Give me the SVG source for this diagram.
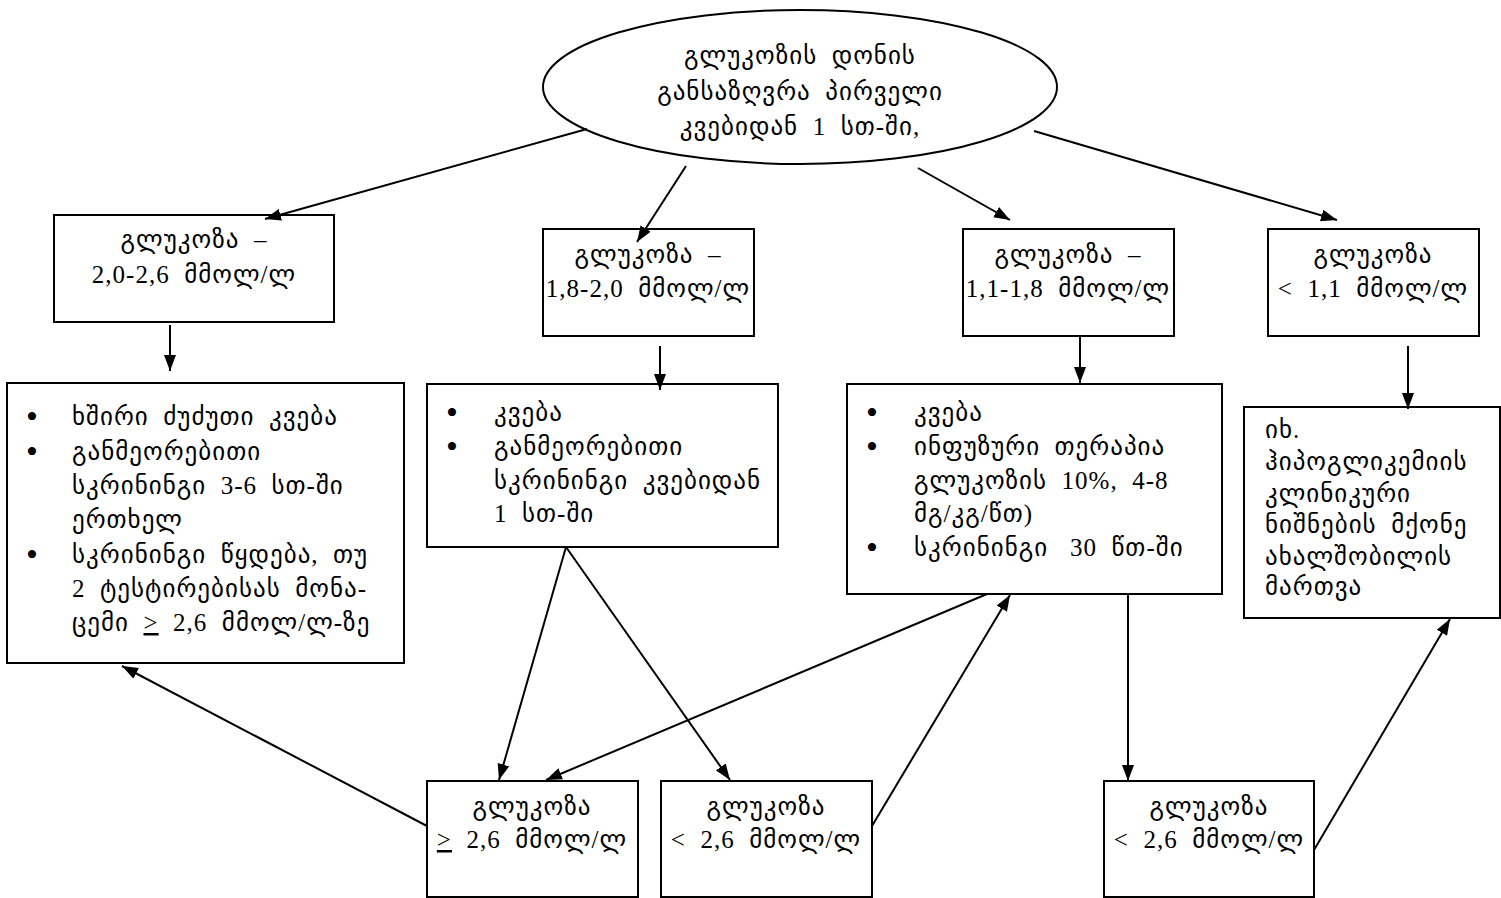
<svg xmlns="http://www.w3.org/2000/svg" width="1501" height="898" viewBox="0 0 1501 898">
<style>
.n{fill:#fff;stroke:#000;stroke-width:2}
.t{font-family:"Liberation Serif","DejaVu Sans",serif;font-size:25px;letter-spacing:1px;white-space:pre;fill:#000}
.b{font-family:"Liberation Serif",serif;font-size:34px;fill:#000}
.c{text-anchor:middle}
.e{stroke:#000;stroke-width:2;fill:none;marker-end:url(#ah)}
</style>
<defs>
<marker id="ah" viewBox="0 0 16 12" refX="16" refY="6" markerWidth="16" markerHeight="12" markerUnits="userSpaceOnUse" orient="auto">
<path d="M0,0 L16,6 L0,12 z" fill="#000"/>
</marker>
</defs>
<rect width="1501" height="898" fill="#fff"/>
<g id="start">
<ellipse class="n" cx="800" cy="87" rx="257" ry="77"/>
<text class="t c" x="800" y="64">გლუკოზის  დონის</text>
<text class="t c" x="800" y="100">განსაზღვრა  პირველი</text>
<text class="t c" x="800" y="135">კვებიდან  1  სთ-ში,</text>
</g>
<g id="b1">
<rect class="n" x="54" y="215" width="280" height="107"/>
<text class="t c" x="194" y="248">გლუკოზა  –</text>
<text class="t c" x="194" y="283">2,0-2,6  მმოლ/ლ</text>
</g>
<g id="b2">
<rect class="n" x="543" y="229" width="211" height="107"/>
<text class="t c" x="648" y="263">გლუკოზა  –</text>
<text class="t c" x="648" y="297">1,8-2,0  მმოლ/ლ</text>
</g>
<g id="b3">
<rect class="n" x="963" y="229" width="211" height="107"/>
<text class="t c" x="1068" y="263">გლუკოზა  –</text>
<text class="t c" x="1068" y="297">1,1-1,8  მმოლ/ლ</text>
</g>
<g id="b4">
<rect class="n" x="1268" y="229" width="211" height="107"/>
<text class="t c" x="1373" y="263">გლუკოზა</text>
<text class="t c" x="1373" y="297">&lt;  1,1  მმოლ/ლ</text>
</g>
<g id="l1">
<rect class="n" x="7" y="383" width="397" height="280"/>
<text class="b" x="26" y="428">•</text>
<text class="t" x="72" y="425">ხშირი  ძუძუთი  კვება</text>
<text class="b" x="26" y="463">•</text>
<text class="t" x="72" y="460">განმეორებითი</text>
<text class="t" x="72" y="494">სკრინინგი  3-6  სთ-ში</text>
<text class="t" x="72" y="528">ერთხელ</text>
<text class="b" x="26" y="566">•</text>
<text class="t" x="72" y="563">სკრინინგი  წყდება,  თუ</text>
<text class="t" x="72" y="597">2  ტესტირებისას  მონა-</text>
<text class="t" x="72" y="631">ცემი  <tspan text-decoration="underline">&gt;</tspan>  2,6  მმოლ/ლ-ზე</text>
</g>
<g id="l2">
<rect class="n" x="427" y="384" width="351" height="163"/>
<text class="b" x="446" y="424">•</text>
<text class="t" x="494" y="421">კვება</text>
<text class="b" x="446" y="458">•</text>
<text class="t" x="494" y="455">განმეორებითი</text>
<text class="t" x="494" y="489">სკრინინგი  კვებიდან</text>
<text class="t" x="494" y="522">1  სთ-ში</text>
</g>
<g id="l3">
<rect class="n" x="847" y="384" width="375" height="210"/>
<text class="b" x="866" y="424">•</text>
<text class="t" x="914" y="421">კვება</text>
<text class="b" x="866" y="458">•</text>
<text class="t" x="914" y="455">ინფუზური  თერაპია</text>
<text class="t" x="914" y="489">გლუკოზის  10%,  4-8</text>
<text class="t" x="914" y="522">მგ/კგ/წთ)</text>
<text class="b" x="866" y="559">•</text>
<text class="t" x="914" y="556">სკრინინგი   30  წთ-ში</text>
</g>
<g id="l4">
<rect class="n" x="1244" y="407" width="256" height="211"/>
<text class="t" x="1265" y="438">იხ.</text>
<text class="t" x="1265" y="470">ჰიპოგლიკემიის</text>
<text class="t" x="1265" y="502">კლინიკური</text>
<text class="t" x="1265" y="533">ნიშნების  მქონე</text>
<text class="t" x="1265" y="565">ახალშობილის</text>
<text class="t" x="1265" y="595">მართვა</text>
</g>
<g id="g1">
<rect class="n" x="427" y="781" width="211" height="116"/>
<text class="t c" x="532" y="815">გლუკოზა</text>
<text class="t c" x="532" y="848"><tspan text-decoration="underline">&gt;</tspan>  2,6  მმოლ/ლ</text>
</g>
<g id="g2">
<rect class="n" x="661" y="781" width="211" height="116"/>
<text class="t c" x="766" y="815">გლუკოზა</text>
<text class="t c" x="766" y="848">&lt;  2,6  მმოლ/ლ</text>
</g>
<g id="g3">
<rect class="n" x="1104" y="781" width="210" height="116"/>
<text class="t c" x="1209" y="815">გლუკოზა</text>
<text class="t c" x="1209" y="848">&lt;  2,6  მმოლ/ლ</text>
</g>
<g id="connectors">
<line class="e" x1="587" y1="129" x2="265" y2="219"/>
<line class="e" x1="686" y1="166" x2="637" y2="242"/>
<line class="e" x1="918" y1="168" x2="1010" y2="220"/>
<line class="e" x1="1034" y1="131" x2="1337" y2="220"/>
<line class="e" x1="170" y1="325" x2="170" y2="371"/>
<line class="e" x1="660" y1="346" x2="660" y2="390"/>
<line class="e" x1="1080" y1="336" x2="1080" y2="383"/>
<line class="e" x1="1408" y1="346" x2="1408" y2="409"/>
<line class="e" x1="427" y1="826" x2="122" y2="666"/>
<line class="e" x1="566" y1="547" x2="499" y2="780"/>
<line class="e" x1="566" y1="547" x2="730" y2="780"/>
<line class="e" x1="987" y1="594" x2="546" y2="780"/>
<line class="e" x1="872" y1="826" x2="1010" y2="595"/>
<line class="e" x1="1128" y1="594" x2="1128" y2="781"/>
<line class="e" x1="1314" y1="850" x2="1450" y2="619"/>
</g>
</svg>
